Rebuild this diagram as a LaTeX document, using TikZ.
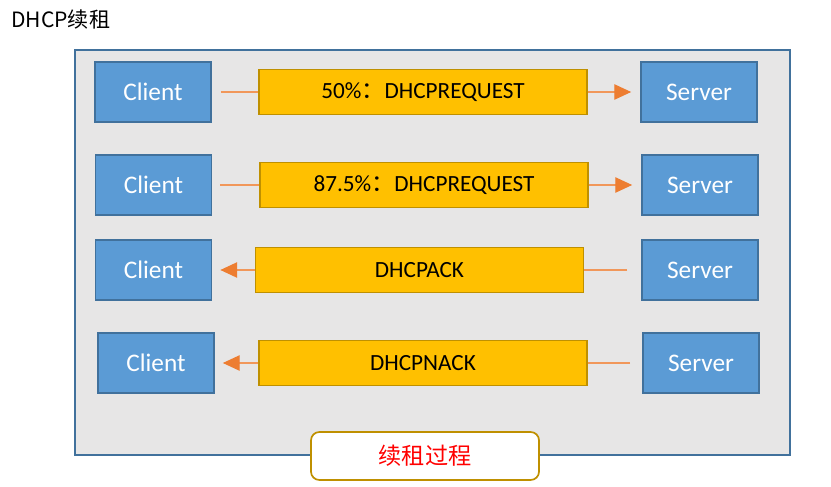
\documentclass[tikz,border=0pt]{standalone}
\usepackage{fontspec}
\setmainfont{Carlito}
\newfontfamily\cjk{Noto Sans CJK SC}
\usetikzlibrary{arrows.meta}
\definecolor{boxblue}{HTML}{5B9BD5}
\definecolor{edgeblue}{HTML}{41719C}
\definecolor{msgyellow}{HTML}{FFC000}
\definecolor{edgegold}{HTML}{BF9000}
\definecolor{flow}{HTML}{ED7D31}
\definecolor{panel}{HTML}{E7E6E6}
\tikzset{
  host/.style={draw=edgeblue, fill=boxblue, line width=1.2pt, minimum width=2.9cm,
    minimum height=1.5cm, inner sep=0pt, text=white, font=\fontsize{18}{20}\selectfont},
  msg/.style={draw=edgegold, fill=msgyellow, line width=1pt, minimum width=8.2cm,
    minimum height=1.125cm, inner sep=0pt, font=\fontsize{16.5}{18}\selectfont},
  link/.style={draw=flow!80, line width=0.8pt},
  flowarrow/.style={link, -{Triangle[length=12pt,width=11pt,color=flow]}},
}
\begin{document}
\begin{tikzpicture}[x=0.025cm,y=-0.025cm]
\useasboundingbox (0,0) rectangle (831,487);
% Title
\node[anchor=west, inner sep=0pt, font=\cjk\fontsize{15}{18}\selectfont] (title) at (11,20) {DHCP续租};
% Panel
\draw[draw=edgeblue, fill=panel, line width=1pt] (75,50) rectangle (790,455);

% Renewal at 50%
\node[host] (c1) at (153,92) {Client};
\node[msg] (m1) at (423,92) {50\%{\cjk ：}DHCPREQUEST};
\node[host] (s1) at (699,92) {Server};
\draw[link] ([xshift=0.225cm]c1.east) -- (m1.west);
\draw[flowarrow] (m1.east) -- ([xshift=-0.225cm]s1.west);

% Renewal at 87.5%
\node[host] (c2) at (153.5,185) {Client};
\node[msg] (m2) at (424,185) {87.5\%{\cjk ：}DHCPREQUEST};
\node[host] (s2) at (700,185) {Server};
\draw[link] ([xshift=0.2cm]c2.east) -- (m2.west);
\draw[flowarrow] (m2.east) -- ([xshift=-0.225cm]s2.west);

% Server accepts
\node[host] (c3) at (153.5,270) {Client};
\node[msg] (m3) at (419.5,270) {DHCPACK};
\node[host] (s3) at (700,270) {Server};
\draw[link] ([xshift=-0.35cm]s3.west) -- (m3.east);
\draw[flowarrow] (m3.west) -- ([xshift=0.2cm]c3.east);

% Server refuses
\node[host] (c4) at (156,363) {Client};
\node[msg] (m4) at (423,363) {DHCPNACK};
\node[host] (s4) at (701,363) {Server};
\draw[link] ([xshift=-0.3cm]s4.west) -- (m4.east);
\draw[flowarrow] (m4.west) -- ([xshift=0.2cm]c4.east);

% Caption
\node[draw=edgegold, fill=white, line width=1.2pt, rounded corners=6pt, minimum width=5.7cm,
  minimum height=1.2cm, text=red, font=\cjk\fontsize{16.5}{18}\selectfont] (stage) at (425,456) {续租过程};
\end{tikzpicture}
\end{document}
